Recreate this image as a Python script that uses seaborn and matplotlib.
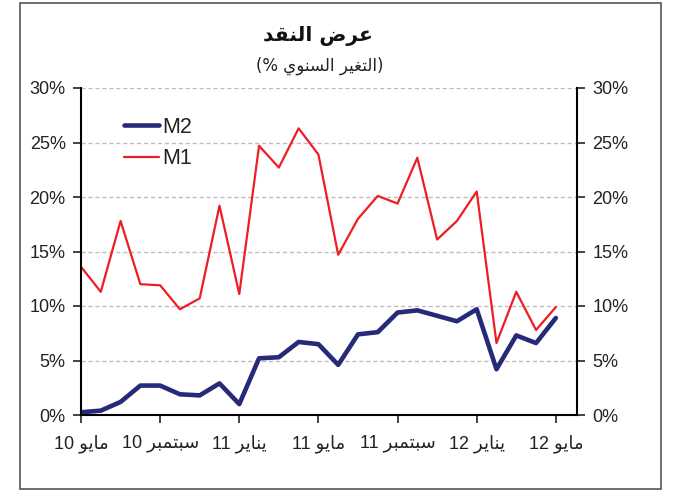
import re
import numpy as np
import pandas as pd
import matplotlib
matplotlib.use("Agg")
import matplotlib.pyplot as plt
from matplotlib.patches import Rectangle
from matplotlib.lines import Line2D
import seaborn as sns

# ---------------- data ----------------
months = list(range(25))  # May 2010 .. May 2012
m2_values = [0.25, 0.4, 1.2, 2.7, 2.7, 1.9, 1.8, 2.9, 1.0, 5.2, 5.3, 6.7, 6.5,
             4.6, 7.4, 7.6, 9.4, 9.6, 9.1, 8.6, 9.7, 4.2, 7.3, 6.6, 8.9]
m1_values = [13.6, 11.3, 17.8, 12.0, 11.9, 9.7, 10.7, 19.2, 11.1, 24.7, 22.7, 26.3, 23.9,
             14.7, 18.0, 20.1, 19.4, 23.6, 16.1, 17.8, 20.5, 6.6, 11.3, 7.8, 9.9]
tick_positions = [0, 4, 8, 12, 16, 20, 24]
tick_labels = ["مايو 10", "سبتمبر 10", "يناير 11", "مايو 11", "سبتمبر 11", "يناير 12", "مايو 12"]
y_ticks = [0, 5, 10, 15, 20, 25, 30]
title_text = "عرض النقد"
subtitle_text = "(التغير السنوي %)"
series_names = ["M2", "M1"]

# ---------------- Arabic shaping (matplotlib has no complex text layout) ----------------
FORMS = {
    'ا': (0xFE8D, 0xFE8E, None, None),
    'ب': (0xFE8F, 0xFE90, 0xFE91, 0xFE92),
    'ت': (0xFE95, 0xFE96, 0xFE97, 0xFE98),
    'د': (0xFEA9, 0xFEAA, None, None),
    'ر': (0xFEAD, 0xFEAE, None, None),
    'س': (0xFEB1, 0xFEB2, 0xFEB3, 0xFEB4),
    'ض': (0xFEBD, 0xFEBE, 0xFEBF, 0xFEC0),
    'ع': (0xFEC9, 0xFECA, 0xFECB, 0xFECC),
    'غ': (0xFECD, 0xFECE, 0xFECF, 0xFED0),
    'ق': (0xFED5, 0xFED6, 0xFED7, 0xFED8),
    'ل': (0xFEDD, 0xFEDE, 0xFEDF, 0xFEE0),
    'م': (0xFEE1, 0xFEE2, 0xFEE3, 0xFEE4),
    'ن': (0xFEE5, 0xFEE6, 0xFEE7, 0xFEE8),
    'و': (0xFEED, 0xFEEE, None, None),
    'ي': (0xFEF1, 0xFEF2, 0xFEF3, 0xFEF4),
}


def _dual(c):
    return c in FORMS and FORMS[c][2] is not None


def shape(text):
    out = []
    for i, c in enumerate(text):
        if c not in FORMS:
            out.append(c)
            continue
        prev = text[i - 1] if i > 0 else ''
        nxt = text[i + 1] if i + 1 < len(text) else ''
        jp = _dual(prev)
        jn = _dual(c) and nxt in FORMS
        iso, fin, ini, med = FORMS[c]
        if jp and jn:
            code = med
        elif jp:
            code = fin
        elif jn:
            code = ini
        else:
            code = iso
        out.append(chr(code))
    return ''.join(out)


MIRROR = {'(': ')', ')': '('}


def visual(text):
    """Right-to-left paragraph: reverse, keep number runs, mirror brackets."""
    s = shape(text)[::-1]
    s = re.sub(r'[0-9]+', lambda m: m.group(0)[::-1], s)
    return ''.join(MIRROR.get(c, c) for c in s)


# ---------------- plot ----------------
sns.set_theme(style="white")
plt.rcParams['font.family'] = ['Liberation Sans', 'DejaVu Sans']

df = pd.DataFrame({
    "month": months * 2,
    "value": m2_values + m1_values,
    "series": [series_names[0]] * len(months) + [series_names[1]] * len(months),
})

W, H = 679, 496
fig = plt.figure(figsize=(W / 100, H / 100), dpi=100)
fig.patch.set_facecolor("white")
ax = fig.add_axes([81 / W, 1 - 415 / H, (577 - 81) / W, (415 - 88) / H])

palette = {"M2": "#262A78", "M1": "#EE1D23"}
sizes = {"M2": 3.3, "M1": 1.6}
sns.lineplot(data=df, x="month", y="value", hue="series", size="series",
             palette=palette, sizes=sizes, hue_order=series_names,
             size_order=series_names, ax=ax, legend=False,
             solid_capstyle="round", solid_joinstyle="round")

# legend
handles = [Line2D([], [], color=palette[n], lw=sizes[n], solid_capstyle="round") for n in series_names]
leg = ax.legend(handles, series_names, loc="upper left", bbox_to_anchor=(0.06, 0.952),
                frameon=False, fontsize=15.5, handlelength=1.65, handletextpad=0.12,
                labelspacing=0.5, borderaxespad=0.2)
for t in leg.get_texts():
    t.set_color("#222222")

ax.set_xlim(0, 25.07)
ax.set_ylim(0, 30)
ax.set_yticks(y_ticks)
ax.set_yticklabels([f"{v}%" for v in y_ticks])
ax.set_xticks(tick_positions)
ax.set_xticklabels([visual(t) for t in tick_labels])
ax.set_xlabel("")
ax.set_ylabel("")

ax.yaxis.set_ticks_position("both")
ax.tick_params(axis="y", which="both", direction="out", length=6, width=1.2,
               labelleft=True, labelright=True, labelsize=13, colors="#222222", pad=5)
ax.tick_params(axis="x", direction="out", length=6, width=1.2, labelsize=13,
               colors="#222222", pad=8)
ax.tick_params(axis="x", bottom=True)

ax.grid(axis="y", color="#BDBDBD", linestyle=(0, (3, 2)), linewidth=1)
ax.set_axisbelow(True)
for side in ["left", "right", "bottom"]:
    ax.spines[side].set_visible(True)
    ax.spines[side].set_color("black")
    ax.spines[side].set_linewidth(1.5)
ax.spines["top"].set_visible(False)

# titles
fig.text(318 / W, 1 - 36 / H, visual(title_text), ha="center", va="center",
         fontsize=14.5, fontweight="bold", family=["DejaVu Sans"], color="#111111")
fig.text(320 / W, 1 - 66 / H, visual(subtitle_text), ha="center", va="center",
         fontsize=12, family=["DejaVu Sans"], color="#222222")

# outer frame
fig.patches.append(Rectangle((20 / W, 1 - 489 / H), (661 - 20) / W, (489 - 3) / H,
                             transform=fig.transFigure, fill=False,
                             edgecolor="#555555", linewidth=1.2))

fig.savefig("out.png", dpi=100, facecolor="white")
